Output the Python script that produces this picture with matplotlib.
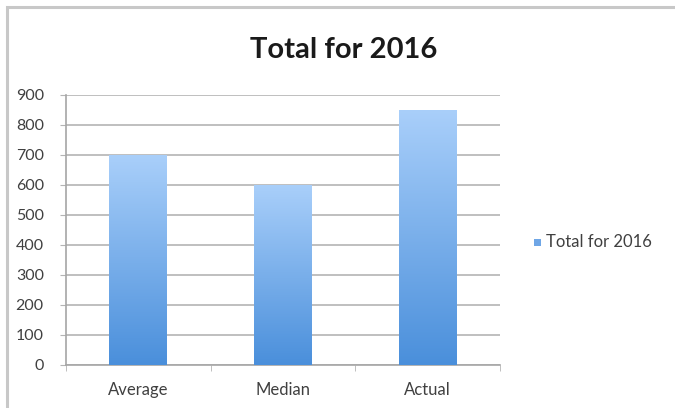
import numpy as np
import matplotlib.pyplot as plt
from matplotlib.colors import LinearSegmentedColormap
from matplotlib.patches import Rectangle

categories = ['Average', 'Median', 'Actual']
values = [700, 600, 850]
series_name = 'Total for 2016'

plt.rcParams['font.family'] = ['Lato', 'DejaVu Sans']

W, H = 675, 408
fig = plt.figure(figsize=(W / 100, H / 100), dpi=100)
fig.patch.set_facecolor('white')

# outer frame like the spreadsheet chart box
fig.add_artist(Rectangle((7 / W, -0.05), 1.1, 1 - 7 / H + 0.05, transform=fig.transFigure,
                         fill=False, edgecolor='#c8c8c8', linewidth=2.2))

ax = fig.add_axes([66 / W, 1 - 365 / H, (500 - 66) / W, 270 / H])

grad = LinearSegmentedColormap.from_list('bar', ['#4a8fdb', '#a9cffa'])
x = np.arange(len(categories))
width = 0.4
bars = ax.bar(x, values, width=width, color='none', edgecolor='none', zorder=3)
gradient = np.linspace(0, 1, 256).reshape(-1, 1)
for b in bars:
    x0, y0 = b.get_x(), b.get_y()
    im = ax.imshow(gradient, cmap=grad, origin='lower', aspect='auto',
                   extent=[x0, x0 + b.get_width(), y0, y0 + b.get_height()], zorder=3)
    im.set_clip_path(b)

ax.set_xlim(-0.5, len(categories) - 0.5)
ax.set_ylim(0, 900)
ax.set_yticks(np.arange(0, 901, 100))
ax.yaxis.grid(True, color='#b4b4b4', linewidth=1.2, zorder=0)
ax.set_axisbelow(True)

ax.set_xticks(x)
ax.set_xticklabels(categories)
ax.set_xticks(np.arange(-0.5, len(categories), 1), minor=True)
ax.tick_params(axis='x', which='major', length=0, pad=12, labelsize=12, labelcolor='#404040')
ax.tick_params(axis='x', which='minor', length=4, color='#b4b4b4', direction='out')
ax.tick_params(axis='y', length=4, color='#b4b4b4', labelsize=11.5, labelcolor='#404040', pad=12)

for side in ['top', 'right']:
    ax.spines[side].set_visible(False)
for side in ['left', 'bottom']:
    ax.spines[side].set_color('#a6a6a6')
    ax.spines[side].set_linewidth(1.2)

fig.text(344 / W, 1 - 50 / H, series_name, ha='center', va='center',
         fontsize=21, fontweight='bold', color='#1a1a1a')

# legend
fig.add_artist(Rectangle((534 / W, 1 - 246 / H), 7 / W, 7 / H, transform=fig.transFigure,
                         facecolor='#6fa6e6', edgecolor='none'))
fig.text(546 / W, 1 - 242 / H, series_name, ha='left', va='center',
         fontsize=12, color='#404040')

fig.savefig('out.png', dpi=100, facecolor='white')
